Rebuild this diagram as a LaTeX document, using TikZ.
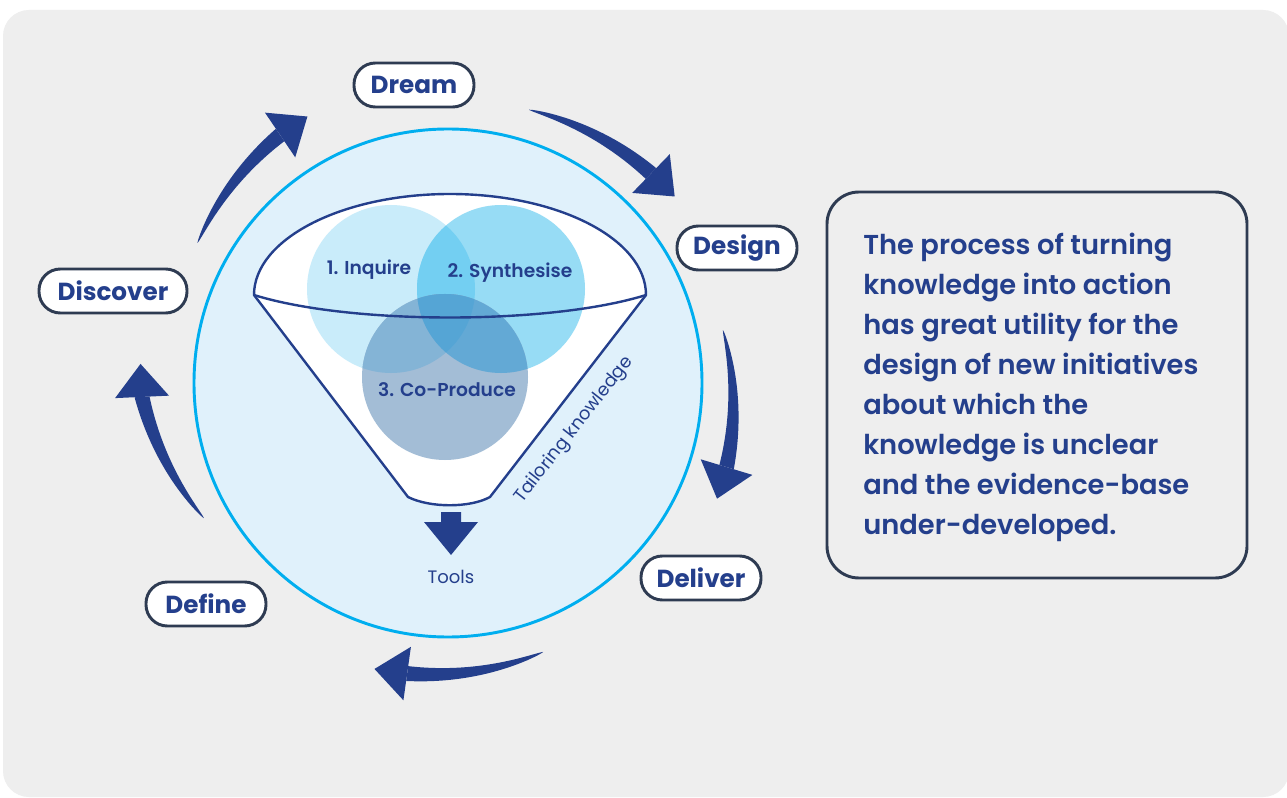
\documentclass[tikz,border=0pt]{standalone}
\usepackage{fontspec}
\setmainfont{Poppins}[BoldFont={* SemiBold}]
\newfontfamily\heavyfont{Poppins}[UprightFont={* Bold}]
\usetikzlibrary{calc}

\definecolor{bggray}{HTML}{EEEEEE}
\definecolor{ringfill}{HTML}{E0F1FB}
\definecolor{ringline}{HTML}{00AEEF}
\definecolor{navy}{HTML}{243F8C}
\definecolor{slate}{HTML}{2E3B52}
\definecolor{inq}{HTML}{C9ECFA}
\definecolor{syn}{HTML}{97DCF5}
\definecolor{cop}{HTML}{A3BDD6}
\definecolor{inqsyn}{HTML}{73CFF2}
\definecolor{inqcop}{HTML}{84B4D6}
\definecolor{syncop}{HTML}{63A9D5}
\definecolor{allthree}{HTML}{55A5D5}

% curved, tapering block arrow around the ring centre
% #1 tail angle, #2 tail radius, #3 head angle, #4 head radius
\newcommand\cyclearrow[4]{%
  \begin{scope}[shift={(448,383)}]
    \fill[navy]
      plot[domain=0.001:1, samples=40] ({-((#1)+((#3)-(#1))*\x)}:{(#2)+((#4)-(#2))*\x+7.5*(\x)^0.65})
      -- plot[domain=1:0.001, samples=40] ({-((#1)+((#3)-(#1))*\x)}:{(#2)+((#4)-(#2))*\x-7.5*(\x)^0.65})
      -- cycle;
    \fill[navy, rotate={#3}] ({(#4)+27},0) -- ({#4},33) -- ({(#4)-27},0) -- cycle;
  \end{scope}}

\tikzset{
  pill/.style={draw=slate, line width=2.2pt, fill=white, rounded corners=16pt,
    minimum width=90pt, minimum height=33pt, inner sep=0pt, text=navy,
    font=\heavyfont\fontsize{18.5}{20}\selectfont},
  venn/.style={text=navy, font=\bfseries\fontsize{14}{16}\selectfont, inner sep=0pt},
  plain/.style={text=navy, font=\fontsize{13.5}{16}\selectfont, inner sep=0pt},
  funnelline/.style={draw=navy, line width=1.8pt, line join=round}
}

\begin{document}
\begin{tikzpicture}[x=0.75pt, y=-0.75pt]
\useasboundingbox (0,0) rectangle (1287,798);
\fill[white] (0,0) rectangle (1287,798);
\fill[bggray, rounded corners=19.5pt] (3,10) rectangle (1289,797);

% outer ring
\draw[ringline, fill=ringfill, line width=2.2pt] (448,383) circle[radius=254];

% funnel body
\fill[white] (254,295) arc[start angle=180, end angle=360, x radius=196, y radius=101]
  -- (490,497) .. controls (470,508) and (430,508) .. (408,497) -- cycle;

% overlapping circles
\fill[inq] (391,289) circle[radius=84];
\fill[syn] (501,289) circle[radius=84];
\begin{scope}
  \clip (391,289) circle[radius=84];
  \fill[inqsyn] (501,289) circle[radius=84];
\end{scope}
\fill[cop] (445,377) circle[radius=83];
\begin{scope}
  \clip (445,377) circle[radius=83];
  \fill[inqcop] (391,289) circle[radius=84];
  \fill[syncop] (501,289) circle[radius=84];
  \clip (391,289) circle[radius=84];
  \fill[allthree] (501,289) circle[radius=84];
\end{scope}

% funnel outline
\draw[funnelline] (254,295) arc[start angle=180, end angle=360, x radius=196, y radius=101]
  -- (490,497) .. controls (470,508) and (430,508) .. (408,497) -- cycle;
\draw[funnelline] (254,295) .. controls (350,325) and (550,325) .. (646,295);

\node[venn] (inquire) at (369,270) {1. Inquire};
\node[venn] (synth) at (510,273) {2. Synthesise};
\node[venn] (coprod) at (447,390) {3. Co-Produce};
\node[plain, rotate=52] (tailor) at (574,430) {Tailoring knowledge};

% output arrow
\fill[navy] (441,512) -- (461,512) -- (461,522) -- (478,522) -- (451,555)
  -- (424,522) -- (441,522) -- cycle;
\node[plain] (tools) at (451,577) {Tools};

% stage labels
\node[pill] (dream) at (414,85) {Dream};
\node[pill] (design) at (737,248) {Design};
\node[pill] (deliver) at (701,578) {Deliver};
\node[pill] (define) at (206,604) {Define};
\node[pill, minimum width=111pt] (discover) at (113,291) {Discover};

% cycle arrows
\cyclearrow{150.8}{287}{124.1}{299.5}
\cyclearrow{73.5}{285}{45.9}{291.7}
\cyclearrow{10.9}{280}{-16.8}{291}
\cyclearrow{-70.5}{285.3}{-98}{293.4}
\cyclearrow{209}{279}{182.6}{306.3}

% description panel
\draw[slate, line width=2.2pt, rounded corners=24pt] (827,192) rectangle (1247,578);
\node[anchor=west, align=left, inner sep=0pt, text=navy,
  font=\bfseries\fontsize{20.5}{30}\selectfont] (desc) at (863,387)
  {The process of turning\\knowledge into action\\has great utility for the\\design of new initiatives\\about which the\\knowledge is unclear\\and the evidence-base\\under-developed.};
\end{tikzpicture}
\end{document}
